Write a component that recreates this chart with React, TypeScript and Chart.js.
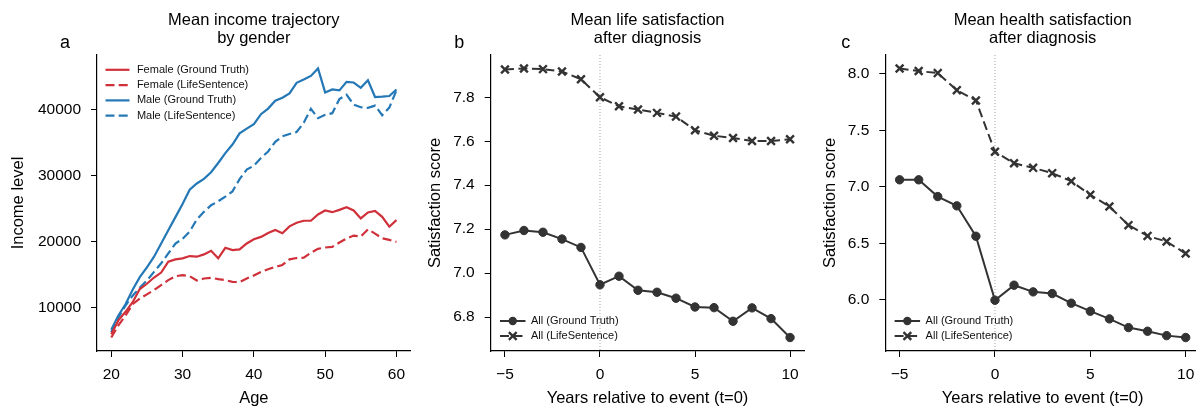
import React, { useEffect, useRef } from "react";
import { Chart, registerables } from "chart.js";

Chart.register(...registerables);

const FONT = '"Liberation Sans", Arial, Helvetica, sans-serif';

// ---------- Panel a data ----------
const ages = [20, 21, 22, 23, 24, 25, 26, 27, 28, 29, 30, 31, 32, 33, 34, 35, 36, 37, 38, 39, 40, 41, 42, 43, 44, 45, 46, 47, 48, 49, 50, 51, 52, 53, 54, 55, 56, 57, 58, 59, 60];
const femaleGroundTruth = [5950, 8050, 9350, 10800, 12800, 13600, 14550, 15300, 16950, 17300, 17450, 17800, 17700, 18050, 18600, 17450, 19050, 18700, 18800, 19700, 20350, 20700, 21300, 21750, 21250, 22300, 22850, 23150, 23150, 24100, 24700, 24450, 24800, 25200, 24700, 23500, 24400, 24650, 23750, 22250, 23250];
const femaleLifeSentence = [5450, 7300, 8800, 10500, 11350, 12000, 12650, 13400, 14150, 14750, 14900, 14750, 14100, 14400, 14500, 14300, 14150, 13900, 13850, 14400, 14850, 15400, 15800, 16150, 16450, 17300, 17500, 17550, 18300, 18900, 19100, 19200, 19850, 20450, 20900, 20750, 21850, 21200, 20500, 20250, 19950];
const maleGroundTruth = [6650, 8800, 10500, 12700, 14600, 16100, 17700, 19700, 21700, 23700, 25700, 27850, 28800, 29500, 30500, 31900, 33400, 34700, 36400, 37100, 37800, 39300, 40150, 41350, 41800, 42450, 44050, 44550, 45100, 46230, 42600, 43050, 42900, 44200, 44100, 43300, 44450, 41900, 41950, 42050, 43050];
const maleLifeSentence = [6250, 8500, 10300, 11800, 13000, 14100, 15400, 16700, 18200, 19700, 20400, 21500, 23350, 24500, 25500, 26100, 26800, 27600, 29450, 30900, 31500, 32650, 33650, 35100, 35950, 36300, 36600, 38000, 40100, 38700, 39200, 39450, 41600, 42250, 40750, 40350, 40250, 40600, 39150, 40300, 42900];
const incomeTicks = [10000, 20000, 30000, 40000];
const ageTicks = [20, 30, 40, 50, 60];

// ---------- Panels b & c data ----------
const years = [-5, -4, -3, -2, -1, 0, 1, 2, 3, 4, 5, 6, 7, 8, 9, 10];
const lifeGroundTruth = [7.174, 7.194, 7.186, 7.155, 7.117, 6.947, 6.986, 6.922, 6.913, 6.886, 6.846, 6.843, 6.781, 6.842, 6.793, 6.707];
const lifeLifeSentence = [7.926, 7.931, 7.928, 7.917, 7.882, 7.800, 7.759, 7.744, 7.729, 7.712, 7.650, 7.625, 7.615, 7.601, 7.601, 7.609];
const healthGroundTruth = [7.062, 7.062, 6.914, 6.832, 6.563, 5.997, 6.130, 6.071, 6.056, 5.971, 5.900, 5.832, 5.755, 5.723, 5.684, 5.667];
const healthLifeSentence = [8.047, 8.024, 8.006, 7.855, 7.764, 7.310, 7.209, 7.168, 7.121, 7.050, 6.929, 6.826, 6.661, 6.566, 6.516, 6.410];
const yearTicks = [-5, 0, 5, 10];
const lifeTicks = [6.8, 7.0, 7.2, 7.4, 7.6, 7.8];
const healthTicks = [6.0, 6.5, 7.0, 7.5, 8.0];
const eventYear = 0;

const RED = "#d0303a";
const BLUE = "#2478b6";
const DARK = "#333333";

function padRange(arrays: number[][]): [number, number] {
  let lo = Infinity;
  let hi = -Infinity;
  arrays.forEach((a) => a.forEach((v) => { lo = Math.min(lo, v); hi = Math.max(hi, v); }));
  const p = (hi - lo) * 0.05;
  return [lo - p, hi + p];
}

function drawMarker(ctx: CanvasRenderingContext2D, style: string, x: number, y: number, r: number, bw: number, color: string) {
  ctx.save();
  ctx.setLineDash([]);
  ctx.fillStyle = color;
  ctx.strokeStyle = color;
  ctx.lineWidth = bw;
  ctx.beginPath();
  if (style === "circle") {
    ctx.arc(x, y, r, 0, Math.PI * 2);
    ctx.fill();
  } else {
    const o = r * Math.SQRT1_2;
    ctx.moveTo(x - o, y - o);
    ctx.lineTo(x + o, y + o);
    ctx.moveTo(x + o, y - o);
    ctx.lineTo(x - o, y + o);
    ctx.stroke();
  }
  ctx.restore();
}

function decorPlugin(lines: string[], letter: string, letterX: number) {
  return {
    id: "decor",
    afterDraw(chart: any) {
      const { ctx, chartArea } = chart;
      ctx.save();
      ctx.fillStyle = "#000";
      ctx.textAlign = "center";
      ctx.textBaseline = "alphabetic";
      ctx.font = `16.5px ${FONT}`;
      const cx = (chartArea.left + chartArea.right) / 2;
      lines.forEach((t, i) => ctx.fillText(t, cx, 24.5 + i * 18.3));
      ctx.font = `18px ${FONT}`;
      ctx.fillText(letter, letterX, 48.3);
      ctx.restore();
    },
  };
}

function legendPlugin(cfg: { dx: number; fromBottom: boolean; dy0: number; step: number; w: number; gap: number }) {
  return {
    id: "panelLegend",
    afterDraw(chart: any) {
      const { ctx, chartArea } = chart;
      const n = chart.data.datasets.length;
      chart.data.datasets.forEach((ds: any, i: number) => {
        const y = cfg.fromBottom
          ? chartArea.bottom - cfg.dy0 - (n - 1 - i) * cfg.step
          : chartArea.top + cfg.dy0 + i * cfg.step;
        const x0 = chartArea.left + cfg.dx;
        ctx.save();
        ctx.strokeStyle = ds.borderColor;
        ctx.lineWidth = ds.borderWidth;
        ctx.setLineDash(ds.borderDash || []);
        ctx.beginPath();
        ctx.moveTo(x0, y);
        ctx.lineTo(x0 + cfg.w, y);
        ctx.stroke();
        if (ds.pointRadius > 0) {
          drawMarker(ctx, ds.pointStyle, x0 + cfg.w / 2, y, ds.pointRadius, ds.pointBorderWidth, ds.borderColor);
        }
        ctx.setLineDash([]);
        ctx.fillStyle = "#111";
        ctx.font = `11px ${FONT}`;
        ctx.textAlign = "left";
        ctx.textBaseline = "middle";
        ctx.fillText(ds.label, x0 + cfg.w + cfg.gap, y);
        ctx.restore();
      });
    },
  };
}

function refLinePlugin(value: number) {
  return {
    id: "refLine",
    beforeDatasetsDraw(chart: any) {
      const { ctx, chartArea, scales } = chart;
      const x = scales.x.getPixelForValue(value);
      ctx.save();
      ctx.strokeStyle = "#9a9a9a";
      ctx.lineWidth = 0.9;
      ctx.setLineDash([1, 2]);
      ctx.beginPath();
      ctx.moveTo(x, chartArea.top);
      ctx.lineTo(x, chartArea.bottom);
      ctx.stroke();
      ctx.restore();
    },
  };
}

function axis(opts: {
  min: number; max: number; ticks: number[]; fmt: (v: number) => string;
  title: string; titlePad: number; size?: number; horizontal: boolean; tickPad: number;
}) {
  return {
    type: "linear",
    min: opts.min,
    max: opts.max,
    afterBuildTicks: (s: any) => { s.ticks = opts.ticks.map((v) => ({ value: v })); },
    afterFit: (s: any) => {
      if (opts.horizontal) s.height = 57; else s.width = opts.size;
    },
    grid: { display: true, drawOnChartArea: false, drawTicks: true, tickLength: 6, tickColor: "#000", tickWidth: 1 },
    border: { display: true, color: "#000", width: 1.2 },
    ticks: {
      padding: opts.tickPad, color: "#000", font: { size: 15.5, family: FONT },
      maxRotation: 0, autoSkip: false,
      callback: (v: any) => opts.fmt(Number(v)),
    },
    title: {
      display: true, text: opts.title, color: "#000", font: { size: 16.5, family: FONT },
      padding: opts.horizontal ? { top: 0, bottom: 0 } : { top: opts.titlePad, bottom: 0 },
    },
  };
}

const fmtInt = (v: number) => String(Math.round(v));
const fmtYear = (v: number) => (v < 0 ? "\u2212" + Math.abs(v) : String(v));
const fmt1 = (v: number) => v.toFixed(1);

function pts(xs: number[], ys: number[]) {
  return xs.map((x, i) => ({ x, y: ys[i] }));
}

function configA(): any {
  const [ymin, ymax] = padRange([femaleGroundTruth, femaleLifeSentence, maleGroundTruth, maleLifeSentence]);
  const [xmin, xmax] = padRange([ages]);
  const line = (label: string, ys: number[], color: string, dashed: boolean) => ({
    label, data: pts(ages, ys), borderColor: color, backgroundColor: color,
    borderWidth: 2.2, borderDash: dashed ? [9, 4.2] : [], pointRadius: 0, tension: 0, fill: false,
  });
  return {
    type: "line",
    data: {
      datasets: [
        line("Female (Ground Truth)", femaleGroundTruth, RED, false),
        line("Female (LifeSentence)", femaleLifeSentence, RED, true),
        line("Male (Ground Truth)", maleGroundTruth, BLUE, false),
        line("Male (LifeSentence)", maleLifeSentence, BLUE, true),
      ],
    },
    options: {
      responsive: false, animation: false, devicePixelRatio: 1,
      layout: { padding: { top: 55, left: 0, right: 9.3, bottom: 0 } },
      plugins: { legend: { display: false }, tooltip: { enabled: false }, title: { display: false } },
      scales: {
        x: axis({ min: xmin, max: xmax, ticks: ageTicks, fmt: fmtInt, title: "Age", titlePad: 0, horizontal: true, tickPad: 8 }),
        y: axis({ min: ymin, max: ymax, ticks: incomeTicks, fmt: fmtInt, title: "Income level", titlePad: 8.7, size: 97, horizontal: false, tickPad: 10 }),
      },
    },
    plugins: [
      decorPlugin(["Mean income trajectory", "by gender"], "a", 65),
      legendPlugin({ dx: 8.5, fromBottom: false, dy0: 14.8, step: 15.3, w: 24, gap: 7.4 }),
    ],
  };
}

function configSat(gt: number[], ls: number[], ticks: number[], title: string[], letter: string, letterX: number, yWidth: number, titlePad: number, padRight: number): any {
  const [ymin, ymax] = padRange([gt, ls]);
  const [xmin, xmax] = padRange([years]);
  return {
    type: "line",
    data: {
      datasets: [
        {
          label: "All (Ground Truth)", data: pts(years, gt), borderColor: DARK, backgroundColor: DARK,
          borderWidth: 2, borderDash: [], pointStyle: "circle", pointRadius: 4.2, pointBorderWidth: 1,
          pointBackgroundColor: DARK, pointBorderColor: DARK, tension: 0, fill: false,
        },
        {
          label: "All (LifeSentence)", data: pts(years, ls), borderColor: DARK, backgroundColor: DARK,
          borderWidth: 2, borderDash: [9, 4.5], pointStyle: "crossRot", pointRadius: 5.5, pointBorderWidth: 2.4,
          pointBackgroundColor: DARK, pointBorderColor: DARK, tension: 0, fill: false,
        },
      ],
    },
    options: {
      responsive: false, animation: false, devicePixelRatio: 1,
      layout: { padding: { top: 55, left: 0, right: padRight, bottom: 0 } },
      plugins: { legend: { display: false }, tooltip: { enabled: false }, title: { display: false } },
      scales: {
        x: axis({ min: xmin, max: xmax, ticks: yearTicks, fmt: fmtYear, title: "Years relative to event (t=0)", titlePad: 0, horizontal: true, tickPad: 8 }),
        y: axis({ min: ymin, max: ymax, ticks, fmt: fmt1, title: "Satisfaction score", titlePad, size: yWidth, horizontal: false, tickPad: 10 }),
      },
    },
    plugins: [
      refLinePlugin(eventYear),
      decorPlugin(title, letter, letterX),
      legendPlugin({ dx: 9.3, fromBottom: true, dy0: 15, step: 15, w: 25.5, gap: 5.5 }),
    ],
  };
}

export default function App() {
  const refA = useRef<HTMLCanvasElement>(null);
  const refB = useRef<HTMLCanvasElement>(null);
  const refC = useRef<HTMLCanvasElement>(null);

  useEffect(() => {
    Chart.defaults.font.family = FONT;
    Chart.defaults.color = "#000";
    const charts = [
      new Chart(refA.current as HTMLCanvasElement, configA()),
      new Chart(refB.current as HTMLCanvasElement, configSat(lifeGroundTruth, lifeLifeSentence, lifeTicks, ["Mean life satisfaction", "after diagnosis"], "b", 39.3, 70.7, 5.4, 15.7)),
      new Chart(refC.current as HTMLCanvasElement, configSat(healthGroundTruth, healthLifeSentence, healthTicks, ["Mean health satisfaction", "after diagnosis"], "c", 25.7, 65.3, 0.6, 20)),
    ];
    return () => charts.forEach((c) => c.destroy());
  }, []);

  return (
    <div style={{ position: "fixed", left: 0, top: 0, width: 1196, height: 408, overflow: "hidden", background: "#fff" }}>
      <canvas ref={refA} width={420} height={408} style={{ position: "absolute", left: 0, top: 0, width: 420, height: 408 }} />
      <canvas ref={refB} width={400} height={408} style={{ position: "absolute", left: 420, top: 0, width: 400, height: 408 }} />
      <canvas ref={refC} width={400} height={408} style={{ position: "absolute", left: 820, top: 0, width: 400, height: 408 }} />
    </div>
  );
}
